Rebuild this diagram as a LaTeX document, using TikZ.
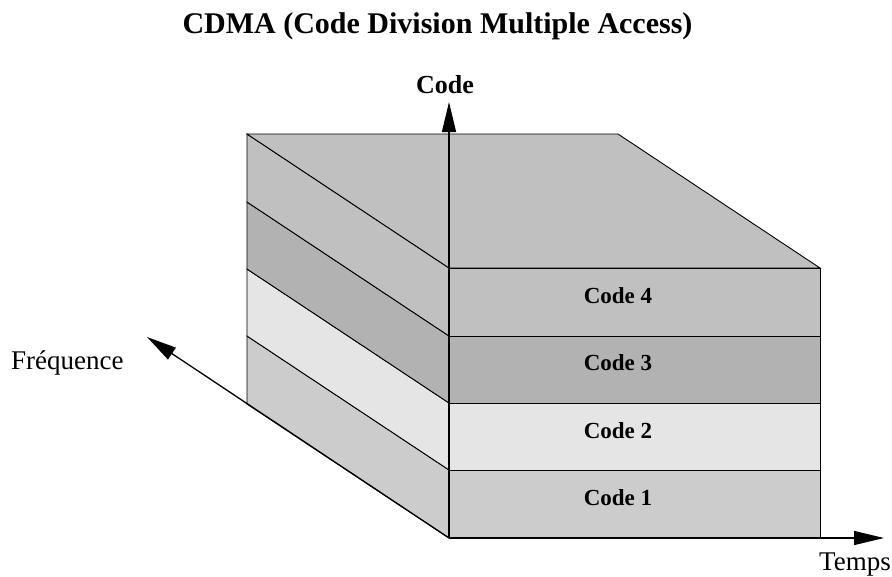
\documentclass[tikz,border=0pt]{standalone}
\usepackage{fontspec}
\setmainfont{Liberation Serif}
\usetikzlibrary{arrows.meta}
\definecolor{codeone}{gray}{0.80}
\definecolor{codetwo}{gray}{0.90}
\definecolor{codethree}{gray}{0.70}
\definecolor{codefour}{gray}{0.753}
\tikzset{
  face/.style={draw=black, line width=0.9pt, line join=miter},
  axis/.style={line width=1.3pt, -{Triangle[length=30pt,width=14pt]}},
  layerlabel/.style={anchor=base, font=\fontsize{23}{27}\selectfont\bfseries},
  axislabel/.style={anchor=base west, inner sep=0pt, font=\fontsize{27}{32}\selectfont},
}
\begin{document}
\begin{tikzpicture}[x=1pt,y=-1pt]
\useasboundingbox (0,0) rectangle (892,576);
% front face corners and depth vector
\def\xl{449}\def\xr{820}
\def\dx{-202}\def\dy{-134}
% left side layers
\foreach \ya/\yb/\col in {470/538/codeone, 403/470/codetwo, 336/403/codethree, 268/336/codefour}{
  \filldraw[face, fill=\col] (\xl,\yb) -- (\xl,\ya) -- ++(\dx,\dy) -- ++(0,\yb-\ya) -- cycle;
}
% top face
\filldraw[face, fill=codefour] (\xl,268) -- (\xr,268) -- ++(\dx,\dy) -- (247,134) -- cycle;
% front face layers
\filldraw[face, fill=codeone]   (\xl,470) rectangle (\xr,538);
\filldraw[face, fill=codetwo]   (\xl,403) rectangle (\xr,470);
\filldraw[face, fill=codethree] (\xl,336) rectangle (\xr,403);
\filldraw[face, fill=codefour]  (\xl,268) rectangle (\xr,336);
\node[layerlabel] (c1) at (618,505) {Code 1};
\node[layerlabel] (c2) at (618,438) {Code 2};
\node[layerlabel] (c3) at (618,370) {Code 3};
\node[layerlabel] (c4) at (618,303) {Code 4};
% axes
\coordinate (o) at (\xl,538);
\coordinate (tcode) at (\xl,102);
\coordinate (tfreq) at (147,337);
\coordinate (ttime) at (884,538);
\draw[axis] (o) -- (tcode);
\draw[axis] (o) -- (tfreq);
\draw[axis] (o) -- (ttime);
\node[anchor=base, inner sep=0pt, font=\fontsize{26}{31}\selectfont\bfseries] (lcode) at (445,93) {Code};
\node[axislabel] (lfreq) at (11,369) {Fréquence};
\node[axislabel] (ltime) at (819,570) {Temps};
\node[anchor=base, inner sep=0pt, font=\fontsize{30}{36}\selectfont\bfseries] (title) at (437.5,33) {CDMA (Code Division Multiple Access)};
\end{tikzpicture}
\end{document}
